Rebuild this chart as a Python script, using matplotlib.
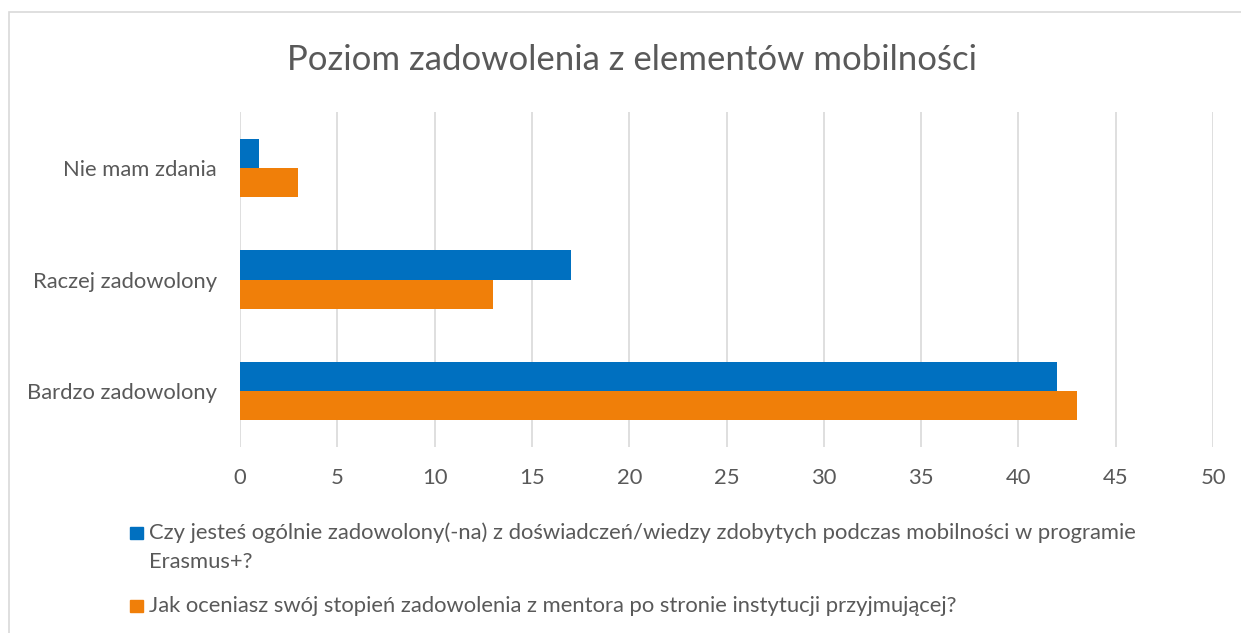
import matplotlib.pyplot as plt
from matplotlib.patches import Rectangle
import numpy as np

categories = ["Bardzo zadowolony", "Raczej zadowolony", "Nie mam zdania"]
ogolnie = [42, 17, 1]
mentor = [43, 13, 3]
series_names = [
    ["Czy jesteś ogólnie zadowolony(-na) z doświadczeń/wiedzy zdobytych podczas mobilności w programie",
     "Erasmus+?"],
    ["Jak oceniasz swój stopień zadowolenia z mentora po stronie instytucji przyjmującej?"],
]
colors = ['#0070C0', '#F07F09']
xticks = list(range(0, 55, 5))

plt.rcParams['font.family'] = ['Lato', 'DejaVu Sans']
text_col = '#595959'
W, H = 1241, 633

fig = plt.figure(figsize=(12.41, 6.33), dpi=100)
# chart border (cut off on right/bottom)
fig.patches.append(Rectangle((9 / W, -0.1), 1.2, 1 - 12 / H + 0.1,
                             transform=fig.transFigure, fill=False,
                             edgecolor='#D9D9D9', linewidth=1.2))

ax = fig.add_axes([240 / W, 1 - 447 / H, (1213 - 240) / W, (447 - 112) / H])

y = np.arange(len(categories))
h = 0.262
ax.barh(y + h / 2, ogolnie, height=h, color=colors[0], zorder=3)
ax.barh(y - h / 2, mentor, height=h, color=colors[1], zorder=3)

ax.set_xlim(0, 50)
ax.set_ylim(-0.5, len(categories) - 0.5)
ax.set_xticks(xticks)
ax.set_yticks(y)
ax.set_yticklabels(categories)
ax.grid(axis='x', color='#D9D9D9', linewidth=1.2, zorder=0)
for s in ax.spines.values():
    s.set_visible(False)
ax.tick_params(length=0, labelsize=15.8, colors=text_col)
ax.tick_params(axis='y', pad=16.5)
ax.tick_params(axis='x', pad=15)

fig.text(632 / W, 1 - 60 / H, "Poziom zadowolenia z elementów mobilności",
         ha='center', va='center', fontsize=25, color=text_col)

# legend drawn by hand so the marker sits on the first line
baselines = [[539, 568], [612]]
for name, col, bl in zip(series_names, colors, baselines):
    fig.patches.append(Rectangle((130 / W, 1 - (bl[0]) / H), 13 / W, 12 / H,
                                 transform=fig.transFigure, color=col))
    for line, b in zip(name, bl):
        fig.text(149 / W, 1 - b / H, line, ha='left', va='baseline',
                 fontsize=15.8, color=text_col)

fig.savefig('out.png', dpi=100)
